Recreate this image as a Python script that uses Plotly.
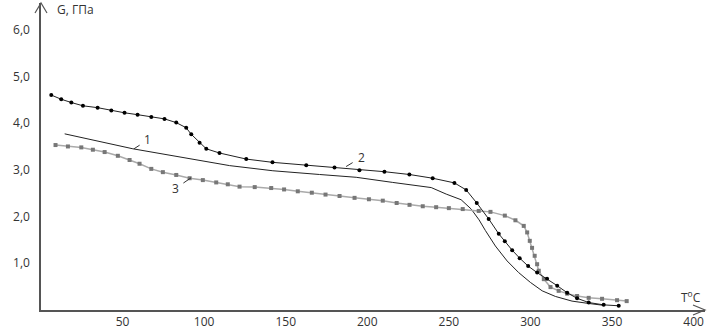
import plotly.graph_objects as go

# Curve 1 (solid line)
t1 = [14.5, 56.3, 115.6, 142.1, 170.7, 193.2, 215.6, 239.2, 248.4, 257.5, 263.7, 268.5, 272.4, 278.5, 285.7, 292.8, 300.0, 307.2, 315.3, 325.5, 335.7, 344.9]
g1 = [3.77, 3.45, 3.09, 2.98, 2.90, 2.84, 2.73, 2.62, 2.48, 2.36, 2.16, 1.93, 1.70, 1.37, 1.05, 0.80, 0.59, 0.41, 0.29, 0.19, 0.14, 0.10]

# Curve 2 (black dots)
t2 = [6.3, 12.4, 18.6, 25.7, 34.7, 43.1, 51.2, 59.2, 67.6, 75.7, 82.9, 89.0, 92.1, 97.2, 101.3, 109.4,
      125.8, 141.9, 162.6, 179.9, 195.2, 210.5, 225.8, 240.1, 253.4, 260.6, 267.1,
      274.4, 280.6, 284.3, 288.8, 293.4, 298.6, 304.1, 310.2, 316.4, 322.5, 328.6, 335.7, 344.9, 354.1]
g2 = [4.60, 4.51, 4.44, 4.37, 4.33, 4.27, 4.22, 4.18, 4.13, 4.09, 4.01, 3.90, 3.76, 3.58, 3.45, 3.36,
      3.23, 3.16, 3.10, 3.05, 2.99, 2.96, 2.90, 2.82, 2.72, 2.57, 2.29,
      1.95, 1.63, 1.47, 1.28, 1.11, 0.94, 0.80, 0.67, 0.52, 0.37, 0.25, 0.16, 0.11, 0.09]

# Curve 3 (gray dots)
t3 = [8.9, 16.5, 24.7, 31.8, 39.0, 47.1, 54.3, 60.4, 67.6, 74.7, 82.9, 91.1, 99.2, 107.4, 114.5,
      121.7, 131.0, 141.1, 149.0, 157.4, 166.0, 174.4, 183.0, 192.2, 201.0, 209.5, 218.0, 225.9, 234.0, 242.2, 250.0, 258.5,
      268.3, 275.5, 284.3, 290.8, 295.9, 298.0, 299.6, 301.0, 302.6, 304.1, 305.1, 308.2, 312.3, 317.3, 322.5, 328.6, 335.7, 343.9, 353.1, 359.0]
g3 = [3.53, 3.50, 3.48, 3.43, 3.38, 3.30, 3.21, 3.13, 3.02, 2.95, 2.89, 2.82, 2.78, 2.73, 2.69,
      2.64, 2.63, 2.61, 2.58, 2.54, 2.51, 2.47, 2.44, 2.40, 2.37, 2.34, 2.29, 2.25, 2.22, 2.20, 2.18, 2.16,
      2.12, 2.10, 2.02, 1.92, 1.80, 1.66, 1.48, 1.33, 1.16, 0.98, 0.84, 0.66, 0.49, 0.41, 0.35, 0.30, 0.26, 0.24, 0.21, 0.19]

y_tickvals = [1, 2, 3, 4, 5, 6]
y_ticktext = ["1,0", "2,0", "3,0", "4,0", "5,0", "6,0"]
x_tickvals = [50, 100, 150, 200, 250, 300, 350, 400]

XMAX = 407
YMAX = 6.57
ML, MR, MT, MB = 41, 11, 3, 19
W = 716 - ML - MR
H = 329 - MT - MB
axis_color = "#555555"
font = dict(family="Open Sans", size=12, color="#333333")

fig = go.Figure()
fig.add_trace(go.Scatter(x=t1, y=g1, mode="lines", line=dict(color="#222222", width=1), showlegend=False))
fig.add_trace(go.Scatter(x=t3, y=g3, mode="lines+markers", line=dict(color="#aaaaaa", width=1.5),
                         marker=dict(color="#777777", size=4, symbol="square"), showlegend=False))
fig.add_trace(go.Scatter(x=t2, y=g2, mode="lines+markers", line=dict(color="#222222", width=1),
                         marker=dict(color="#000000", size=4), showlegend=False))

# axis arrowheads (paper coordinates so they are not clipped)
fig.add_shape(type="path", xref="paper", yref="paper",
              path=f"M {-6/W} {1-10/H} L 0 1 L {6/W} {1-10/H}",
              line=dict(color=axis_color, width=1.2))
fig.add_shape(type="path", xref="paper", yref="paper",
              path=f"M {1-12/W} {5/H} L 1 0 L {1-12/W} {-5/H}",
              line=dict(color=axis_color, width=1.2))

fig.add_annotation(x=0, y=1, xref="paper", yref="paper", text="G, ГПа", showarrow=False,
                   xanchor="left", yanchor="middle", xshift=14, yshift=-6, font=font)
fig.add_annotation(x=1, y=0, xref="paper", yref="paper", text="T<sup>o</sup>C", showarrow=False,
                   xanchor="right", yanchor="bottom", xshift=-2, yshift=2, font=font)

for x, y, ax, ay, txt in [(57, 3.45, 14, -9, "1"), (187, 3.07, 15, -9, "2"), (92, 2.83, -16, 11, "3")]:
    fig.add_annotation(x=x, y=y, text=txt, showarrow=True, arrowhead=0, arrowwidth=1,
                       arrowcolor="#333333", ax=ax, ay=ay, font=font, standoff=0, startstandoff=4)

fig.update_layout(
    width=716, height=329,
    margin=dict(l=ML, r=MR, t=MT, b=MB, autoexpand=False),
    paper_bgcolor="white", plot_bgcolor="white",
    font=font,
    xaxis=dict(range=[0, XMAX], showgrid=False, zeroline=False, showline=True, linecolor=axis_color,
               linewidth=1.5, tickvals=x_tickvals, ticks="", ticklabelstandoff=0, automargin=False),
    yaxis=dict(range=[0, YMAX], showgrid=False, zeroline=False, showline=True, linecolor=axis_color,
               linewidth=1.5, tickvals=y_tickvals, ticktext=y_ticktext, ticks="", ticklabelstandoff=7,
               automargin=False),
)

fig.write_html("out.html", config={"displayModeBar": False},
               post_script="document.body.style.margin='0';")
